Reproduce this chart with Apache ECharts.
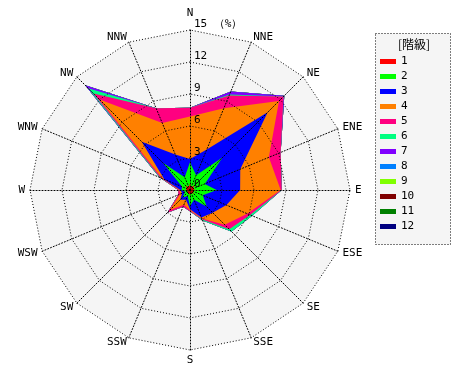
<!DOCTYPE html>
<html><head><meta charset="utf-8">
<script src="https://cdn.jsdelivr.net/npm/echarts@6/dist/echarts.min.js"></script>
<style>html,body{margin:0;padding:0;background:#fff}#c{width:470px;height:380px}</style>
</head><body><div id="c"></div>
<script>
// 16 wind directions, clockwise from north
const directions = ['N','NNE','NE','ENE','E','ESE','SE','SSE','S','SSW','SW','WSW','W','WNW','NW','NNW'];
// speed classes
const classNames = ['1','2','3','4','5','6','7','8','9','10','11','12'];
const classColors = ['#ff0000','#00ff00','#0000ff','#ff8000','#ff0080','#00ff80','#8000ff','#0080ff','#80ff00','#800000','#008000','#000080'];
// frequency (%) of each class per direction (N, NNE, ... NNW)
const class1  = [0.6,0.3,0.6,0.3,0.5,0.3,0.5,0.3,0.5,0.3,0.4,0.2,0.4,0.3,0.6,0.3];
const class2  = [2.0,1.2,3.7,1.2,2.0,1.0,1.7,0.7,1.0,0.3,0.6,0.3,0.4,0.5,3.0,1.0];
const class3  = [0.3,2.6,6.0,3.6,2.2,2.4,0.8,1.8,0.3,0.4,0.3,0.3,0.1,1.8,2.8,2.3];
const class4  = [4.0,4.2,1.5,2.9,3.8,2.1,1.6,0.1,0.1,0.5,1.4,0.2,0.1,0.2,5.6,3.2];
const class5  = [0.8,1.3,0.6,1.2,0.1,0.3,0.6,0.1,0.1,0.2,0.3,0.2,0.1,0.2,0.8,1.5];
const class6  = [0.0,0.1,0.0,0.0,0.0,0.2,0.3,0.1,0.0,0.0,0.0,0.0,0.0,0.1,0.7,0.0];
const class7  = [0.0,0.3,0.1,0.0,0.0,0.0,0.0,0.0,0.0,0.0,0.0,0.0,0.0,0.0,0.4,0.0];
const class8  = [0,0,0,0,0,0,0,0,0,0,0,0,0,0,0,0];
const class9  = [0,0,0,0,0,0,0,0,0,0,0,0,0,0,0,0];
const class10 = [0,0,0,0,0,0,0,0,0,0,0,0,0,0,0,0];
const class11 = [0,0,0,0,0,0,0,0,0,0,0,0,0,0,0,0];
const class12 = [0,0,0,0,0,0,0,0,0,0,0,0,0,0,0,0];
const radialMax = 15;
const radialTicks = [0,3,6,9,12,15];
const unitLabel = '（%）';
const legendTitle = '[階級]';

const classes = [class1,class2,class3,class4,class5,class6,class7,class8,class9,class10,class11,class12];
// stacked (cumulative) values
const cum = [];
classes.forEach((arr, k) => {
  cum.push(arr.map((v, i) => v + (k ? cum[k-1][i] : 0)));
});
// radar indicators run counter-clockwise: reorder so directions go clockwise
const order = directions.map((d, k) => (16 - k) % 16);

const font = 'DejaVu Sans Mono';
const dotted = {color: '#000', type: [1, 2], width: 1};
const baseRadar = {
  center: [190, 190], radius: 160, startAngle: 90, shape: 'polygon',
  splitNumber: radialTicks.length - 1, nameGap: 5
};
const chart = echarts.init(document.getElementById('c'), null, {renderer: 'canvas'});
chart.setOption({
  animation: false,
  backgroundColor: '#ffffff',
  radar: [
    Object.assign({}, baseRadar, {
      z: 0,
      indicator: order.map(i => ({name: '', min: 0, max: radialMax})),
      axisName: {show: false},
      axisLine: {show: false},
      splitLine: {show: false},
      splitArea: {show: true, areaStyle: {color: ['#f5f5f5']}},
      axisTick: {show: false},
      axisLabel: {show: false}
    }),
    Object.assign({}, baseRadar, {
      z: 5,
      axisName: {color: '#000', fontFamily: font, fontSize: 11},
      indicator: order.map((i, k) => {
        const o = {name: directions[i], min: 0, max: radialMax};
        if (k === 0) {
          o.axisLabel = {show: true, color: '#000', fontFamily: font, fontSize: 11, margin: -4,
            align: 'left', verticalAlign: 'bottom', showMinLabel: true,
            formatter: v => (v === radialMax ? v + ' ' + unitLabel : String(v))};
        }
        return o;
      }),
      axisLine: {lineStyle: dotted},
      splitLine: {lineStyle: dotted},
      splitArea: {show: false},
      axisTick: {show: false},
      axisLabel: {show: false}
    })
  ],
  legend: {
    orient: 'vertical', left: 375, top: 51, itemWidth: 16, itemHeight: 5, itemGap: 4,
    icon: 'rect', selectedMode: false, data: classNames,
    textStyle: {fontFamily: font, fontSize: 11, color: '#000', lineHeight: 11}
  },
  graphic: [
    {type: 'rect', shape: {x: 375.5, y: 33.5, width: 75, height: 211}, z: -1,
     style: {fill: '#f5f5f5', stroke: '#000', lineWidth: 1, lineDash: [1, 2]}},
    {type: 'text', style: {text: legendTitle, x: 414, y: 44, align: 'center', verticalAlign: 'middle',
     font: '12px "Noto Sans CJK JP"', fill: '#000'}}
  ],
  series: [{
    type: 'radar', radarIndex: 0, symbol: 'none', silent: true, z: 2,
    data: classes.map((c, k) => ({
      name: classNames[k],
      value: order.map(i => cum[k][i]),
      lineStyle: {width: 0, opacity: 0},
      itemStyle: {color: classColors[k]},
      areaStyle: {color: classColors[k], opacity: 1}
    })).reverse()
  }]
});
</script></body></html>
